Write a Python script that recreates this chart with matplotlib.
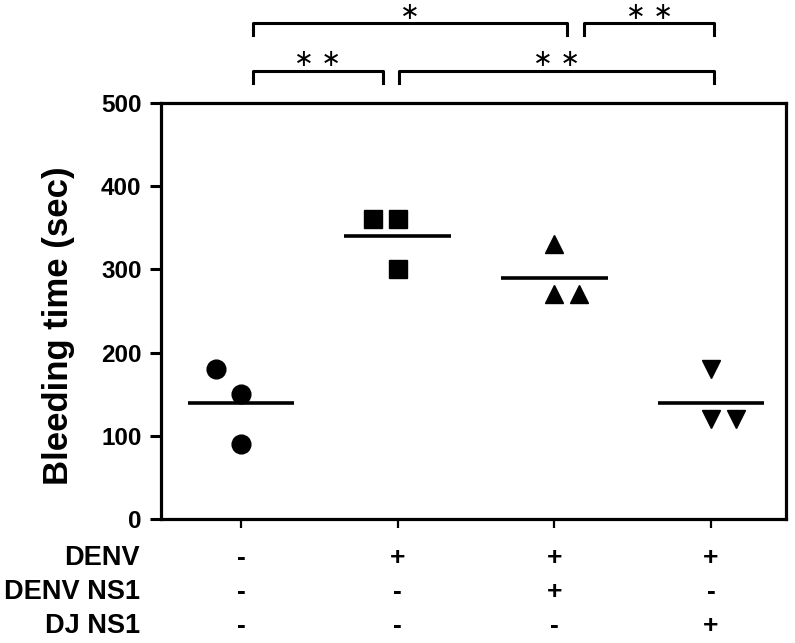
import matplotlib
matplotlib.use('Agg')
import matplotlib.pyplot as plt
import matplotlib.transforms as mtrans

plt.rcParams['font.family'] = ['Liberation Sans', 'DejaVu Sans']

# bleeding time (sec) per mouse, one list per group
group_x = [1, 2, 3, 4]
mock_vals = [180, 150, 90]
denv_vals = [360, 360, 300]
denv_ns1_vals = [330, 270, 270]
dj_ns1_vals = [180, 120, 120]
group_means = [140, 340, 290, 140]

# horizontal scatter of the points inside each group
jitter = [[-0.16, 0, 0], [-0.16, 0, 0], [0, 0, 0.16], [0, 0, 0.16]]
markers = ['o', 's', '^', 'v']

# treatment table under the axis
row_names = ['DENV', 'DENV NS1', 'DJ NS1']
row_signs = [['-', '+', '+', '+'],
             ['-', '-', '+', '-'],
             ['-', '-', '-', '+']]

# significance brackets: (x start, x end, row, stars)
brackets = [(1.075, 1.907, 0, '\u2217 \u2217'),
            (2.01, 4.02, 0, '\u2217 \u2217'),
            (1.075, 3.083, 1, '\u2217'),
            (3.19, 4.02, 1, '\u2217 \u2217')]

fig = plt.figure(figsize=(7.95, 6.43), dpi=100)
ax = fig.add_axes([0.2025, 0.1928, 0.7862, 0.647])

all_vals = [mock_vals, denv_vals, denv_ns1_vals, dj_ns1_vals]
for gx, vals, jit, mk, m in zip(group_x, all_vals, jitter, markers, group_means):
    xs = [gx + j for j in jit]
    ax.plot(xs, vals, linestyle='none', marker=mk, markersize=13.5,
            color='black', clip_on=False)
    ax.plot([gx - 0.34, gx + 0.34], [m, m], color='black', lw=2.6,
            solid_capstyle='butt')

ax.set_xlim(0.489, 4.479)
ax.set_ylim(0, 500)
ax.set_yticks([0, 100, 200, 300, 400, 500])
ax.set_xticks(group_x)
ax.set_xticklabels([])
for s in ax.spines.values():
    s.set_linewidth(2.3)
ax.tick_params(axis='y', direction='out', length=8, width=2.2, pad=6,
               labelsize=17.5)
ax.tick_params(axis='x', direction='out', length=6.5, width=1.6)
for lab in ax.get_yticklabels():
    lab.set_fontweight('bold')

ax.set_ylabel('Bleeding time (sec)', fontsize=25, fontweight='bold')
ax.yaxis.set_label_coords(-0.137, 0.464)

# treatment table
row_y = [0.1322, 0.0793, 0.0264]
tr = mtrans.blended_transform_factory(ax.transData, fig.transFigure)
tr_lab = mtrans.blended_transform_factory(ax.transAxes, fig.transFigure)
for name, signs, y in zip(row_names, row_signs, row_y):
    ax.text(-0.034, y, name, transform=tr_lab, ha='right', va='center',
            fontsize=19.5, fontweight='bold', clip_on=False)
    for gx, sg in zip(group_x, signs):
        ax.text(gx, y, sg, transform=tr, ha='center', va='center',
                fontsize=19, fontweight='bold', clip_on=False)

# significance brackets above the plot
bar_y = [0.8896, 0.9638]
drop = 0.0187
for x0, x1, row, stars in brackets:
    y = bar_y[row]
    ax.plot([x0, x0, x1, x1], [y - drop, y, y, y - drop], transform=tr,
            color='black', lw=2.2, clip_on=False)
    ax.text((x0 + x1) / 2, y + 0.018, stars, transform=tr, ha='center',
            va='center', fontsize=17, family='DejaVu Sans', clip_on=False)

fig.savefig('out.png', dpi=100)
